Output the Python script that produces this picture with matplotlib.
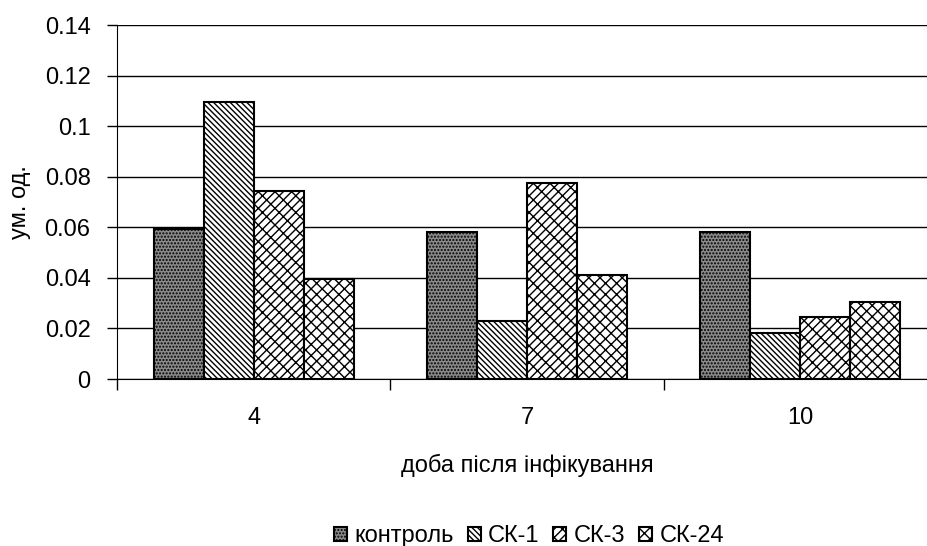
import numpy as np
import matplotlib.pyplot as plt
import matplotlib as mpl

plt.rcParams['font.family'] = ['Liberation Sans', 'DejaVu Sans']
mpl.rcParams['hatch.linewidth'] = 1.0

days = ['4', '7', '10']
series = ['контроль', 'СК-1', 'СК-3', 'СК-24']
kontrol = [0.0595, 0.058, 0.058]
sk1 = [0.1095, 0.023, 0.018]
sk3 = [0.0745, 0.0775, 0.0245]
sk24 = [0.0395, 0.041, 0.0305]

values = [kontrol, sk1, sk3, sk24]
faces = ['#8a8a8a', 'white', 'white', 'white']
hatches = ['.....', '\\\\\\\\\\\\', '////\\\\', 'xxx']

fs = 17
fig = plt.figure(figsize=(9.28, 5.46), dpi=100)
ax = fig.add_axes([117 / 928, (546 - 379) / 546, 820 / 928, 354 / 546])

x = np.arange(len(days))
w = 0.183
for i, (vals, fc, h, name) in enumerate(zip(values, faces, hatches, series)):
    ax.bar(x + (i - 1.5) * w, vals, w, color=fc, edgecolor='black',
           hatch=h, linewidth=1.5, label=name, zorder=3)

ax.set_xlim(-0.5, 2.5)
ax.set_ylim(0, 0.14)
ax.set_yticks(np.arange(0, 0.141, 0.02))
ax.set_yticklabels(['0', '0.02', '0.04', '0.06', '0.08', '0.1', '0.12', '0.14'])
ax.yaxis.grid(True, color='black', linewidth=1, zorder=0)
ax.set_axisbelow(True)

ax.set_xticks([-0.5, 0.5, 1.5, 2.5])
ax.set_xticklabels([])
ax.set_xticks(x, minor=True)
ax.set_xticklabels(days, minor=True)
ax.tick_params(axis='x', which='major', direction='out', length=8, width=1)
ax.tick_params(axis='x', which='minor', length=0, pad=20, labelsize=fs)
ax.tick_params(axis='y', direction='out', length=7, width=1, labelsize=fs, pad=12)

for s in ['top', 'right']:
    ax.spines[s].set_visible(False)

ax.set_ylabel('ум. од.', fontsize=fs, labelpad=10)
ax.set_xlabel('доба після інфікування', fontsize=fs, labelpad=18)

fig.legend(loc='center', bbox_to_anchor=(529 / 928, 1 - 536 / 546), ncol=4,
           frameon=False, fontsize=fs, handlelength=0.55, handleheight=0.55,
           handletextpad=0.3, columnspacing=0.6)

fig.savefig('out.png', dpi=100)
